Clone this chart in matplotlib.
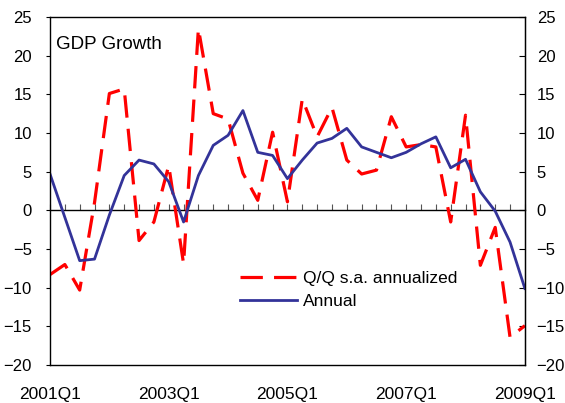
import numpy as np
import matplotlib
matplotlib.use("Agg")
import matplotlib.pyplot as plt

plt.rcParams['font.family'] = ['Liberation Sans', 'DejaVu Sans']

# quarterly, 2001Q1 .. 2009Q1
quarters = [f"{y}Q{q}" for y in range(2001, 2010) for q in range(1, 5)][:33]

qq_saar = [-8.3, -7.0, -10.3, 1.0, 15.1, 15.7, -3.9, -1.5, 5.8, -6.9,
           23.5, 12.5, 11.8, 4.8, 1.3, 10.1, 1.1, 14.4, 9.5, 13.3,
           6.5, 4.7, 5.2, 12.1, 8.2, 8.5, 8.2, -1.5, 12.3, -7.1,
           -2.2, -16.4, -14.9]
annual = [4.7, -0.9, -6.5, -6.3, -0.6, 4.5, 6.5, 6.0, 3.7, -1.5,
          4.5, 8.4, 9.7, 12.9, 7.5, 7.1, 4.1, 6.5, 8.7, 9.3,
          10.6, 8.2, 7.5, 6.8, 7.5, 8.6, 9.5, 5.5, 6.6, 2.4,
          -0.1, -4.1, -10.1]

label_ticks = ["2001Q1", "2003Q1", "2005Q1", "2007Q1", "2009Q1"]
y_ticks = list(range(-20, 30, 5))

x = np.arange(len(quarters))

fig = plt.figure(figsize=(5.65, 4.03), dpi=100)
ax = fig.add_axes([0.0885, 0.094, 0.8405, 0.864])

ax.plot(x, qq_saar, color='#ff0000', lw=2.3, dashes=(7, 3.5),
        label='Q/Q s.a. annualized')
ax.plot(x, annual, color='#333399', lw=2.0, label='Annual')

ax.set_xlim(0, len(quarters) - 1)
ax.set_ylim(-20, 25)
ax.set_yticks(y_ticks)

ax.set_xticks([quarters.index(q) for q in label_ticks])
ax.set_xticklabels(label_ticks)
ax.tick_params(axis='x', length=0, pad=16, labelsize=12.5)
ax.tick_params(axis='y', labelsize=12, length=3, direction='out', pad=10)

# right axis: same scale, ticks inside
right = ax.secondary_yaxis('right')
right.set_yticks(y_ticks)
right.tick_params(direction='in', length=4, labelsize=12, pad=8.5)

# zero line with quarterly ticks
zero = ax.secondary_xaxis(20 / 45)
zero.set_xticks(x)
zero.set_xticklabels([])
zero.tick_params(direction='in', length=4, width=0.8, color='#555555')
zero.spines['bottom'].set_linewidth(1.0)
zero.spines['top'].set_linewidth(1.0)

for s in ax.spines.values():
    s.set_linewidth(1.0)

ax.text(0.012, 0.945, 'GDP Growth', transform=ax.transAxes, fontsize=13.5,
        va='top', ha='left')

leg = ax.legend(loc='upper left', bbox_to_anchor=(0.385, 0.29), frameon=False,
                fontsize=12.5, handlelength=3.3, handletextpad=0.35,
                labelspacing=0.45, borderaxespad=0)

fig.savefig('out.png', dpi=100)
